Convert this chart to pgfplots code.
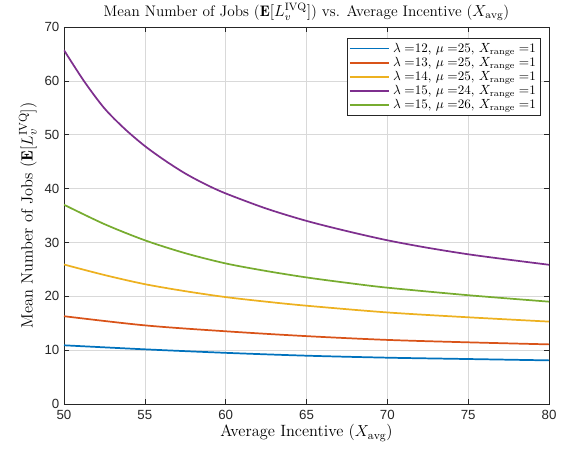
\documentclass[border=0pt]{standalone}
\usepackage{pgfplots}
\pgfplotsset{compat=1.18}
\usepackage{fontspec}
\newfontfamily\tickfont{Liberation Sans}
\definecolor{mblue}{rgb}{0,0.447,0.741}
\definecolor{morange}{rgb}{0.85,0.325,0.098}
\definecolor{myellow}{rgb}{0.929,0.694,0.125}
\definecolor{mpurple}{rgb}{0.494,0.184,0.556}
\definecolor{mgreen}{rgb}{0.466,0.674,0.188}
\definecolor{maxis}{rgb}{0.15,0.15,0.15}
\begin{document}
\begin{tikzpicture}
\begin{axis}[
  scale only axis,
  width=363.75bp, height=282.75bp,
  xmin=50, xmax=80, ymin=0, ymax=70,
  xtick={50,55,...,80}, ytick={0,10,...,70},
  tick align=inside,
  major tick length=4bp,
  xtick pos=both, ytick pos=both,
  axis line style={maxis, line width=0.5pt},
  tick style={maxis, line width=0.5pt},
  grid=major,
  major grid style={black!15, line width=0.5pt},
  /pgf/number format/assume math mode=true,
  ticklabel style={font=\tickfont\fontsize{10}{12}\selectfont, text=maxis},
  xticklabel style={yshift=-1bp},
  title={Mean Number of Jobs ($\mathbf{E}[L_v^{\mathrm{IVQ}}]$) vs. Average Incentive ($X_{\mathrm{avg}}$)},
  title style={font=\fontsize{11.5}{13}\selectfont, yshift=-5bp},
  xlabel={Average Incentive ($X_{\mathrm{avg}}$)},
  ylabel={Mean Number of Jobs ($\mathbf{E}[L_v^{\mathrm{IVQ}}]$)},
  label style={font=\fontsize{12.3}{14}\selectfont},
  xlabel style={yshift=3bp},
  ylabel style={yshift=-1bp},
  legend style={at={(0.983,0.971)}, anchor=north east, draw=maxis, line width=0.5pt,
    font=\fontsize{9.8}{11.5}\selectfont, inner sep=1.5bp, row sep=-1.8bp, fill=white},
  legend cell align=left,
  legend image code/.code={\draw[#1, line width=1.3pt] (0cm,0cm) -- (1.05cm,0cm);},
  every axis plot/.append style={line width=1.3pt, smooth, no markers},
]
\addplot[mblue] coordinates {(50,10.9) (55,10.15) (60,9.5) (65,8.97) (70,8.6) (75,8.35) (80,8.1)};
\addlegendentry{$\lambda=$12, $\mu=$25, $X_{\mathrm{range}}=$1}
\addplot[morange] coordinates {(50,16.3) (55,14.6) (60,13.5) (65,12.6) (70,11.9) (75,11.45) (80,11.07)};
\addlegendentry{$\lambda=$13, $\mu=$25, $X_{\mathrm{range}}=$1}
\addplot[myellow] coordinates {(50,25.9) (52.5,23.95) (55,22.25) (57.5,20.95) (60,19.85) (62.5,19.0) (65,18.25) (70,17.0) (75,16.1) (80,15.3)};
\addlegendentry{$\lambda=$14, $\mu=$25, $X_{\mathrm{range}}=$1}
\addplot[mpurple] coordinates {(50,65.7) (51.25,59.9) (52.5,54.9) (53.75,51.1) (55,47.9) (56.25,45.2) (57.5,42.8) (58.75,40.8) (60,39.1) (62.5,36.3) (65,34.0) (67.5,32.1) (70,30.4) (72.5,29.0) (75,27.8) (77.5,26.8) (80,25.85)};
\addlegendentry{$\lambda=$15, $\mu=$24, $X_{\mathrm{range}}=$1}
\addplot[mgreen] coordinates {(50,37.0) (52.5,33.4) (55,30.4) (57.5,28.0) (60,26.1) (62.5,24.7) (65,23.5) (67.5,22.5) (70,21.6) (75,20.2) (80,19.0)};
\addlegendentry{$\lambda=$15, $\mu=$26, $X_{\mathrm{range}}=$1}
\end{axis}
\pgfresetboundingbox
\path[use as bounding box] ([shift={(-48bp,-37.5bp)}]current axis.south west) rectangle ([shift={(15.75bp,20.25bp)}]current axis.north east);
\end{tikzpicture}
\end{document}
